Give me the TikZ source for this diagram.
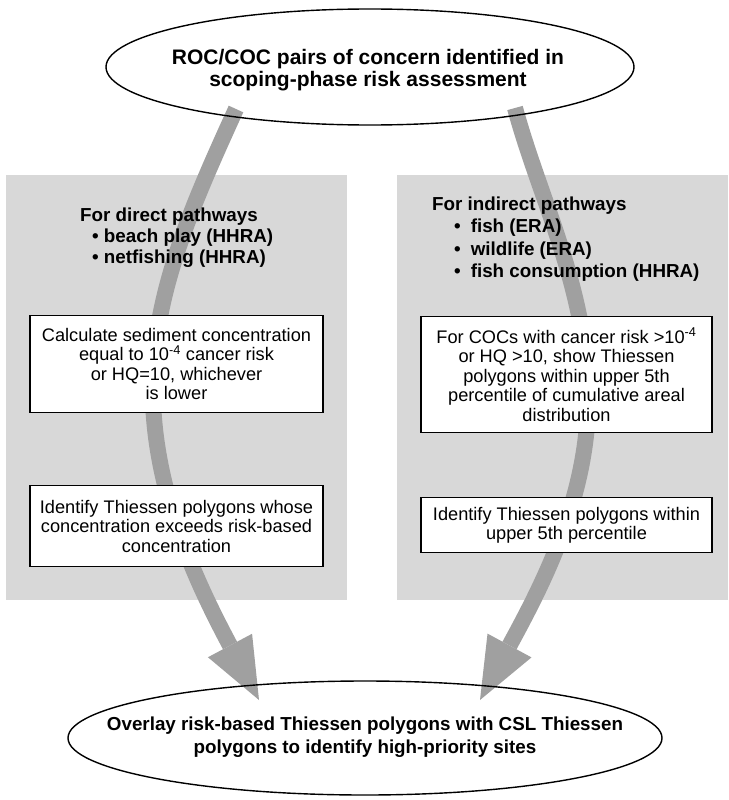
\documentclass[tikz,border=0pt]{standalone}
\usepackage{fontspec}
\setmainfont{Liberation Sans}
\usetikzlibrary{shapes.geometric,calc}
\pgfdeclarelayer{panels}
\pgfdeclarelayer{arrowlayer}
\pgfsetlayers{panels,arrowlayer,main}
\definecolor{panelgray}{HTML}{D8D8D8}
\definecolor{arrowgray}{HTML}{A0A0A0}
\tikzset{
  oval/.style={ellipse, draw=black, line width=1.4pt, inner sep=0pt},
  ovaltext/.style={align=center, inner sep=0pt},
  stepbox/.style={draw=black, fill=white, line width=1.3pt, inner sep=0pt, align=center,
    minimum width=293pt, font=\fontsize{18.2}{19.5}\selectfont},
  heading/.style={align=left, inner sep=0pt},
  panel/.style={fill=panelgray, draw=none, inner sep=0pt},
  band/.style={draw=arrowgray, line width=16pt},
  head/.style={fill=arrowgray, draw=none},
}
\begin{document}
\begin{tikzpicture}[x=1pt, y=-1pt]
\useasboundingbox (0,0) rectangle (728,800);

% ellipses
\node[oval, minimum width=528pt, minimum height=116pt] (top) at (370,67) {};
\node[ovaltext, font=\bfseries\fontsize{21}{21.5}\selectfont] (toptext) at (368,70)
  {ROC/COC pairs of concern identified in\\scoping-phase risk assessment};
\node[oval, minimum width=594pt, minimum height=114pt] (bottom) at (365,738) {};
\node[ovaltext, font=\bfseries\fontsize{18.8}{23}\selectfont] (bottomtext) at (365,737)
  {Overlay risk-based Thiessen polygons with CSL Thiessen\\polygons to identify high-priority sites};

% panels
\begin{pgfonlayer}{panels}
\node[panel, anchor=north west, minimum width=341pt, minimum height=425pt] (lpanel) at (6,175) {};
\node[panel, anchor=north west, minimum width=331pt, minimum height=425pt] (rpanel) at (397,175) {};
\end{pgfonlayer}

% headings
\node[heading, anchor=west, font=\bfseries\fontsize{18.8}{21}\selectfont] (lhead) at (80,238)
  {For direct pathways\\
   \hspace*{12pt}\textbullet\ beach play (HHRA)\\
   \hspace*{12pt}\textbullet\ netfishing (HHRA)};
\node[heading, anchor=west, font=\bfseries\fontsize{18.8}{22.3}\selectfont] (rhead) at (432,239)
  {For indirect pathways\\
   \hspace*{22pt}\textbullet\hspace{10pt}fish (ERA)\\
   \hspace*{22pt}\textbullet\hspace{10pt}wildlife (ERA)\\
   \hspace*{22pt}\textbullet\hspace{10pt}fish consumption (HHRA)};

% boxes
\node[stepbox, anchor=north, minimum height=97pt] (lbox1) at (176.5,315)
  {Calculate sediment concentration\\equal to 10\textsuperscript{-4} cancer risk\\or HQ=10, whichever\\is lower};
\node[stepbox, anchor=north, minimum width=291pt, minimum height=116pt] (rbox1) at (566.5,316)
  {For COCs with cancer risk >10\textsuperscript{-4}\\or HQ >10, show Thiessen\\polygons within upper 5th\\percentile of cumulative areal\\distribution};
\node[stepbox, anchor=north, minimum height=81pt] (lbox2) at (176.5,485)
  {Identify Thiessen polygons whose\\concentration exceeds risk-based\\concentration};
\node[stepbox, anchor=north, minimum width=291pt, minimum height=55pt] (rbox2) at (566.5,497)
  {Identify Thiessen polygons within\\upper 5th percentile};

% arrows
\begin{pgfonlayer}{arrowlayer}
\coordinate (ls) at (236,109);
\coordinate (lm) at (153,400);
\coordinate (lb) at (230,645.5);
\coordinate (lt) at (259,700);
\coordinate (rs) at (515,108);
\coordinate (rm) at (588,400);
\coordinate (rb) at (509.5,645.5);
\coordinate (rt) at (480,700);
\draw[band] (ls) .. controls (190,210) and (150,300) .. (lm)
                 .. controls (156,500) and (201,591) .. (lb);
\fill[head] (lt) -- ($(lb)!25pt!90:(lt)$) -- ($(lb)!25pt!-90:(lt)$) -- cycle;
\draw[band] (rs) .. controls (540,200) and (588,290) .. (rm)
                 .. controls (588,500) and (539,591) .. (rb);
\fill[head] (rt) -- ($(rb)!25pt!90:(rt)$) -- ($(rb)!25pt!-90:(rt)$) -- cycle;
\end{pgfonlayer}
\end{tikzpicture}
\end{document}
